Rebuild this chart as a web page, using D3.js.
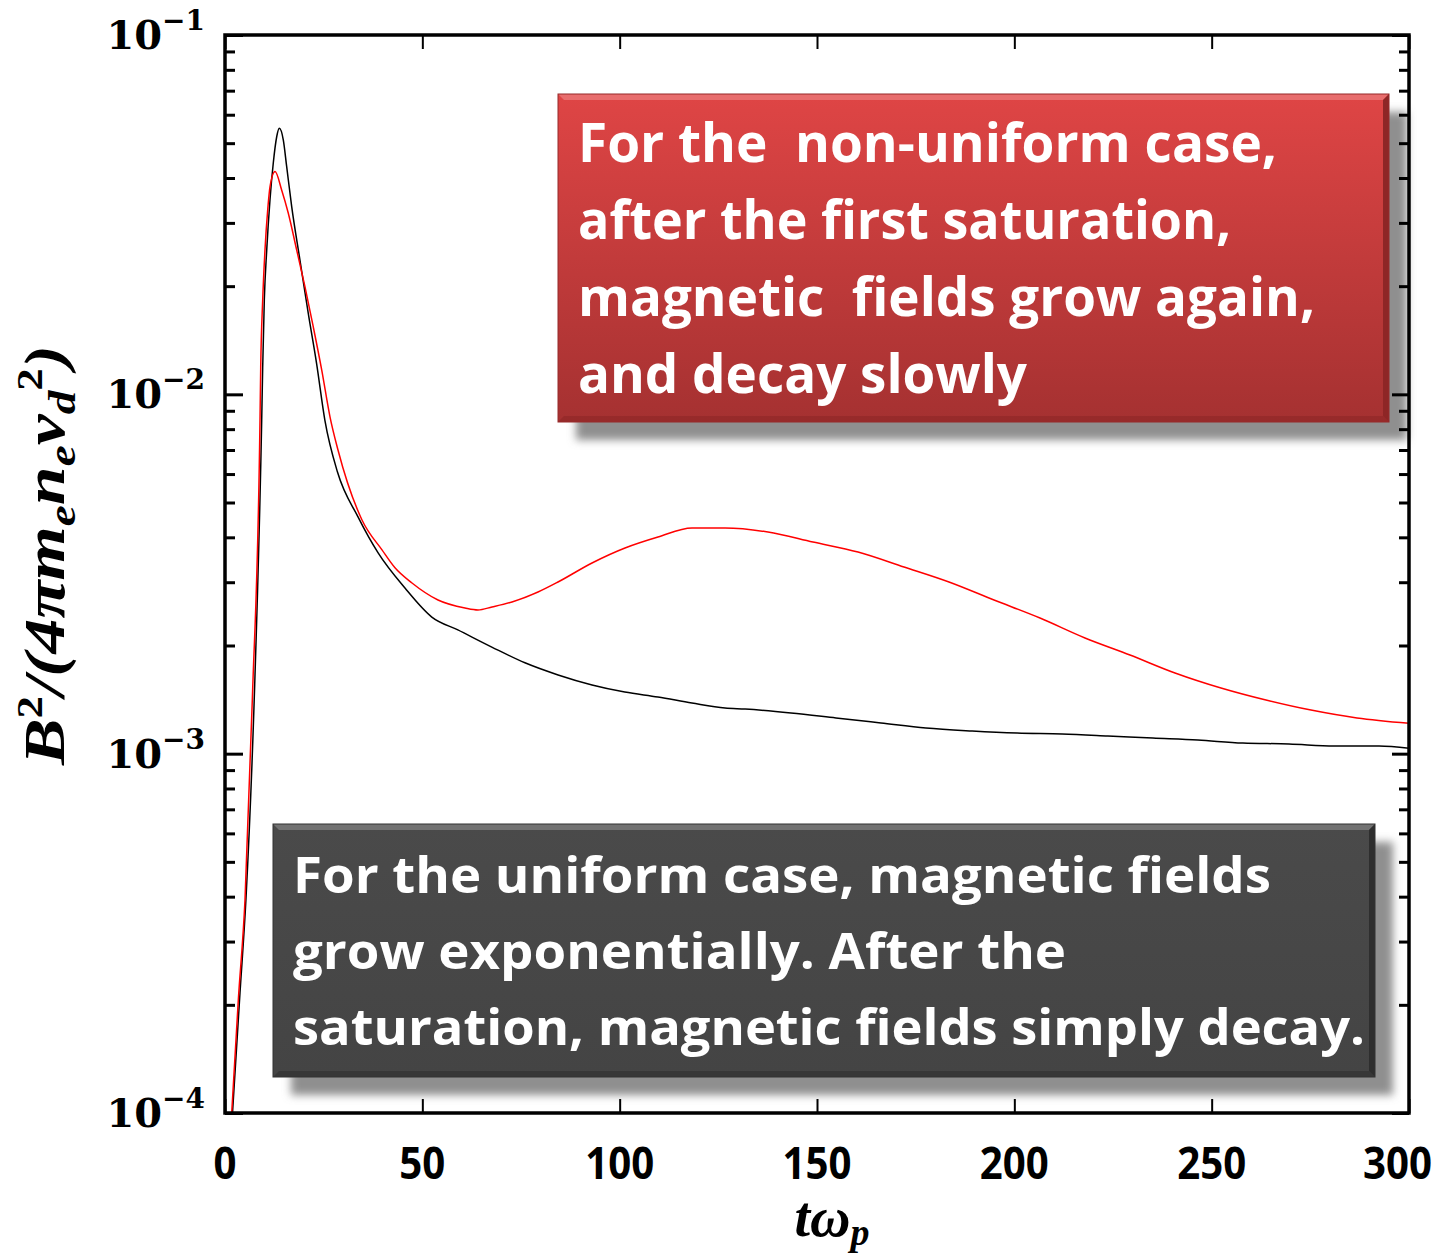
<!DOCTYPE html>
<html><head><meta charset="utf-8">
<script src="https://cdn.jsdelivr.net/npm/d3@7"></script>
<style>html,body{margin:0;padding:0;background:#fff;} svg{display:block;}</style>
</head><body>
<script>
// ---- data ----
const tBlack = [1.9, 3.8, 5.3, 7.4, 9.3, 9.55, 9.96, 10.57, 11.4, 12.24, 13.1, 13.76, 14.78, 15.63, 16.9, 19.0, 21.1, 23.2, 25.3, 28.5, 33.7, 38.8, 45.6, 52.4, 59.0, 67.6, 76.0, 84.4, 93.0, 101.3, 109.7, 118.3, 126.7, 131.8, 143.4, 154.8, 166.2, 177.6, 189.3, 200.7, 212.1, 223.7, 235.1, 246.5, 257.9, 269.6, 281.0, 292.4, 300];
const vBlack = [1.0e-4, 2.16e-4, 3.92e-4, 1.41e-3, 8.49e-3, 0.0119, 0.0183, 0.0252, 0.0348, 0.0441, 0.0521, 0.0550, 0.0510, 0.0430, 0.0333, 0.0236, 0.0168, 0.0122, 0.00848, 0.00608, 0.00456, 0.00362, 0.00289, 0.00240, 0.00221, 0.00198, 0.00179, 0.001656, 0.001553, 0.001484, 0.001438, 0.001384, 0.00134, 0.001331, 0.001298, 0.001257, 0.001217, 0.001178, 0.001156, 0.001141, 0.001134, 0.00112, 0.001105, 0.001091, 0.00107, 0.001064, 0.00105, 0.00105, 0.001035];
const tRed = [1.7, 3.37, 5.07, 6.92, 8.87, 9.05, 9.55, 10.13, 10.82, 11.4, 12.67, 14.37, 16.04, 18.17, 20.27, 22.37, 24.5, 26.6, 28.63, 34.71, 39.78, 43.07, 47.38, 53.97, 60.81, 64.1, 67.65, 72.72, 79.31, 84.37, 92.99, 101.35, 109.71, 118.33, 126.69, 137.58, 148.98, 160.39, 172.04, 183.44, 194.85, 206.5, 217.9, 229.3, 240.71, 252.36, 263.76, 275.16, 286.82, 300];
const vRed = [1.0e-4, 2.06e-4, 3.92e-4, 1.41e-3, 0.00848, 0.0119, 0.0183, 0.0252, 0.0326, 0.0378, 0.0417, 0.0370, 0.0319, 0.0252, 0.0199, 0.0154, 0.0117, 0.00866, 0.0070, 0.00447, 0.00369, 0.00329, 0.002985, 0.002677, 0.002543, 0.002511, 0.00256, 0.002643, 0.002818, 0.003004, 0.003394, 0.003736, 0.004009, 0.004246, 0.004246, 0.004139, 0.003882, 0.00364, 0.003307, 0.003004, 0.002677, 0.002385, 0.002099, 0.001882, 0.001677, 0.001523, 0.00141, 0.001322, 0.001257, 0.001215];
const xTickValues = [0, 50, 100, 150, 200, 250, 300];
const yTickExponents = [-1, -2, -3, -4];
const redBoxLines = ["For the  non-uniform case,", "after the first saturation,", "magnetic  fields grow again,", "and decay slowly"];
const darkBoxLines = ["For the uniform case, magnetic fields", "grow exponentially. After the", "saturation, magnetic fields simply decay."];

// ---- layout ----
const W = 1439, H = 1259;
const L = 225, R = 1409, T = 35, B = 1113;

const svg = d3.select("body").append("svg").attr("width", W).attr("height", H);
svg.append("rect").attr("width", W).attr("height", H).attr("fill", "#fff");
const defs = svg.append("defs");

const x = d3.scaleLinear().domain([0, 300]).range([L, R]);
const y = d3.scaleLog().domain([1e-4, 1e-1]).range([B, T]);

defs.append("clipPath").attr("id", "plotclip").append("rect")
  .attr("x", L).attr("y", T).attr("width", R - L).attr("height", B - T);

// ---- curves ----
const line = d3.line().x(d => x(d[0])).y(d => y(d[1])).curve(d3.curveMonotoneX);
const g = svg.append("g").attr("clip-path", "url(#plotclip)");
g.append("path").datum(tBlack.map((t, i) => [t, vBlack[i]]))
  .attr("d", line).attr("fill", "none").attr("stroke", "#000").attr("stroke-width", 1.5);
g.append("path").datum(tRed.map((t, i) => [t, vRed[i]]))
  .attr("d", line).attr("fill", "none").attr("stroke", "#ff0000").attr("stroke-width", 1.5);

// ---- annotation boxes ----
const blur = defs.append("filter").attr("id", "shadowblur").attr("x", "-10%").attr("y", "-10%").attr("width", "120%").attr("height", "130%");
blur.append("feGaussianBlur").attr("stdDeviation", 4);

function gradient(id, c1, c2) {
  const lg = defs.append("linearGradient").attr("id", id).attr("x1", 0).attr("y1", 0).attr("x2", 0).attr("y2", 1);
  lg.append("stop").attr("offset", "0%").attr("stop-color", c1);
  lg.append("stop").attr("offset", "100%").attr("stop-color", c2);
}
gradient("redgrad", "#df4545", "#a53131");
gradient("darkgrad", "#4a4a4a", "#444444");

function box(bx, by, bw, bh, fill, light, dark, edge, lines, tx, baseline0, lh, fs, widths) {
  const gb = svg.append("g");
  gb.append("rect").attr("x", bx + 18).attr("y", by + 18).attr("width", bw).attr("height", bh)
    .attr("fill", "#8f8f8f").attr("filter", "url(#shadowblur)");
  gb.append("rect").attr("x", bx).attr("y", by).attr("width", bw).attr("height", bh)
    .attr("fill", fill);
  const bv = 6;
  gb.append("polygon").attr("points", [[bx, by], [bx + bw, by], [bx + bw - bv, by + bv], [bx + bv, by + bv]].join(" "))
    .attr("fill", light);
  gb.append("polygon").attr("points", [[bx + bw, by], [bx + bw, by + bh], [bx + bw - bv, by + bh - bv], [bx + bw - bv, by + bv]].join(" "))
    .attr("fill", dark);
  gb.append("polygon").attr("points", [[bx, by + bh], [bx + bw, by + bh], [bx + bw - bv, by + bh - bv], [bx + bv, by + bh - bv]].join(" "))
    .attr("fill", dark).attr("opacity", 0.6);
  gb.append("rect").attr("x", bx).attr("y", by).attr("width", bw).attr("height", bh)
    .attr("fill", "none").attr("stroke", edge).attr("stroke-width", 1);
  lines.forEach((s, i) => {
    gb.append("text").attr("x", tx).attr("y", baseline0 + i * lh)
      .attr("font-family", "'Open Sans', sans-serif").attr("font-weight", 700)
      .attr("font-size", fs).attr("fill", "#fff")
      .attr("textLength", widths[i]).attr("lengthAdjust", "spacingAndGlyphs")
      .style("white-space", "pre")
      .text(s);
  });
}
box(558, 94, 831, 328, "url(#redgrad)", "#e86d6d", "#8e2626", "#962a2a",
  redBoxLines, 578, 162, 77, 54, [699, 653, 737, 449]);
box(273, 824, 1102, 253, "url(#darkgrad)", "#727272", "#2e2e2e", "#333",
  darkBoxLines, 293, 893, 76, 51, [978, 773, 1072]);

// ---- axes ----
const minorVals = [];
for (let e = -4; e < -1; e++) for (let k = 2; k <= 9; k++) minorVals.push(k * Math.pow(10, e));
const majorVals = yTickExponents.map(e => Math.pow(10, e));

function styleAxis(sel, w) {
  sel.select(".domain").remove();
  sel.selectAll(".tick line").attr("stroke", "#000").attr("stroke-width", w);
  sel.selectAll(".tick text").remove();
}
svg.append("g").attr("transform", `translate(${L},0)`)
  .call(d3.axisLeft(y).tickValues(minorVals).tickSize(-10)).call(styleAxis, 3);
svg.append("g").attr("transform", `translate(${L},0)`)
  .call(d3.axisLeft(y).tickValues(majorVals).tickSize(-18)).call(styleAxis, 3);
svg.append("g").attr("transform", `translate(${R},0)`)
  .call(d3.axisRight(y).tickValues(minorVals).tickSize(-10)).call(styleAxis, 3);
svg.append("g").attr("transform", `translate(${R},0)`)
  .call(d3.axisRight(y).tickValues(majorVals).tickSize(-17)).call(styleAxis, 3);
svg.append("g").attr("transform", `translate(0,${B})`)
  .call(d3.axisBottom(x).tickValues(xTickValues).tickSize(-14)).call(styleAxis, 2);
svg.append("g").attr("transform", `translate(0,${T})`)
  .call(d3.axisTop(x).tickValues(xTickValues).tickSize(-14)).call(styleAxis, 2);

// frame
svg.append("rect").attr("x", L).attr("y", T).attr("width", R - L).attr("height", B - T)
  .attr("fill", "none").attr("stroke", "#000").attr("stroke-width", 3.5);

// y tick labels
yTickExponents.forEach(e => {
  const t = svg.append("text").attr("x", 205).attr("y", y(Math.pow(10, e)) + 14)
    .attr("text-anchor", "end").attr("font-family", "'DejaVu Serif', serif")
    .attr("font-weight", 700).attr("fill", "#000");
  t.append("tspan").attr("font-size", 40).text("10");
  t.append("tspan").attr("font-size", 28).attr("dy", -19).text("\u2212" + Math.abs(e));
});

// x tick labels (condensed bold, like the reference)
xTickValues.forEach(v => {
  const s = String(v);
  const w = 23 * s.length;
  const cx = Math.min(x(v), W - 7 - w / 2);
  svg.append("text").attr("x", cx).attr("y", 1179)
    .attr("text-anchor", "middle").attr("font-family", "'Open Sans', sans-serif")
    .attr("font-weight", 700).attr("font-size", 44).attr("fill", "#000")
    .attr("textLength", w).attr("lengthAdjust", "spacingAndGlyphs")
    .text(s);
});

// x axis title t ω_p
const xt = svg.append("text").attr("x", 832).attr("y", 1236).attr("text-anchor", "middle")
  .attr("font-family", "'Liberation Serif', serif").attr("font-style", "italic").attr("font-weight", 700)
  .attr("font-size", 56).attr("fill", "#000");
xt.append("tspan").text("t\u03c9");
xt.append("tspan").attr("font-size", 38).attr("dy", 9).text("p");

// y axis title B^2/(4π m_e n_e v_d^2)
const yt = svg.append("text").attr("transform", "translate(64,555) rotate(-90)").attr("text-anchor", "middle")
  .attr("font-family", "'Liberation Serif', serif").attr("font-style", "italic").attr("font-weight", 700)
  .attr("font-size", 56).attr("fill", "#000")
  .attr("textLength", 420).attr("lengthAdjust", "spacingAndGlyphs");
const parts = [
  ["B", 0, 56], ["2", -22, 36], ["/(4\u03c0m", 22, 56], ["e", 11, 38], ["n", -11, 56], ["e", 11, 38],
  ["v", -11, 56], ["d", 11, 38], ["2", -33, 36], [")", 22, 56]
];
parts.forEach(p => {
  const ts = yt.append("tspan").attr("dy", p[1]).attr("font-size", p[2]).text(p[0]);
  if (/^[0-9]$/.test(p[0])) ts.attr("font-style", "normal");
});
</script>
</body></html>
